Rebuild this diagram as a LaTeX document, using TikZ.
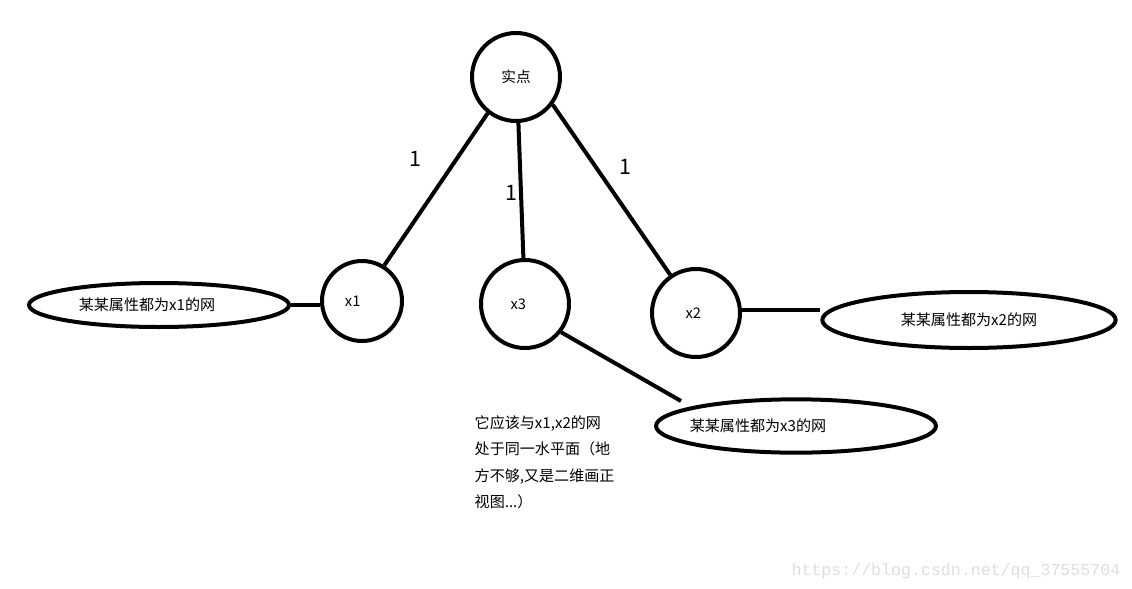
\documentclass[tikz,border=0pt]{standalone}
\usepackage{fontspec}
\setmainfont{Noto Sans CJK SC}
\newfontfamily\wmfont{Liberation Mono}
\usetikzlibrary{shapes.geometric}
\begin{document}
\begin{tikzpicture}[x=0.75pt,y=-0.75pt,
  thick line/.style={line width=3pt},
  circ/.style={circle,draw,line width=3pt,inner sep=0pt,font=\fontsize{11}{12}\selectfont},
  ell/.style={ellipse,draw,line width=3pt,inner sep=0pt,font=\fontsize{11.3}{12}\selectfont},
  wlabel/.style={font=\fontsize{16}{18}\selectfont}]
\useasboundingbox[fill=white] (0,0) rectangle (1132,589);
\node[circ,minimum size=66pt] (top) at (516,77) {实点};
\node[circ,minimum size=60pt] (x1) at (362,301) {\hspace*{-14pt}x1};
\node[circ,minimum size=66pt] (x3) at (525,304) {\hspace*{-10pt}\raisebox{-3pt}{x3}};
\node[circ,minimum size=66pt] (x2) at (696,313) {\hspace*{-4pt}\raisebox{-5pt}{x2}};
\node[ell,minimum width=195pt,minimum height=33pt] (e1) at (159,305) {\hspace*{-18pt}某某属性都为x1的网};
\node[ell,minimum width=220pt,minimum height=42pt] (e2) at (969,320) {某某属性都为x2的网};
\node[ell,minimum width=210pt,minimum height=40pt] (e3) at (796,426) {\hspace*{-57pt}\raisebox{-4pt}{某某属性都为x3的网}};
\draw[thick line] (top.-128) -- (x1.58) node[wlabel,pos=0.3,left=22pt] {1};
\draw[thick line] (top.-87) -- (x3.92) node[wlabel,pos=0.52,left=-2pt] {1};
\draw[thick line] (top.-37) -- (x2.124) node[wlabel,pos=0.38,right=12pt,yshift=2pt] {1};
\draw[thick line] (e1.east) -- (e1.east -| x1.west);
\draw[thick line] (x2.east |- 0,310) -- (e2.west |- 0,310);
\coordinate (e3a) at (681,401);
\draw[thick line] (x3.-38) -- (e3a);
\node[anchor=north west,align=left,font=\fontsize{11.3}{19.8}\selectfont] (note) at (470,411) {它应该与x1,x2的网\\处于同一水平面（地\\方不够,又是二维画正\\视图...）};
\node[anchor=base east,text=black!13,font=\wmfont\fontsize{12.45}{14}\selectfont] (wm) at (1125,575) {https://blog.csdn.net/qq\_37555704};
\end{tikzpicture}
\end{document}
